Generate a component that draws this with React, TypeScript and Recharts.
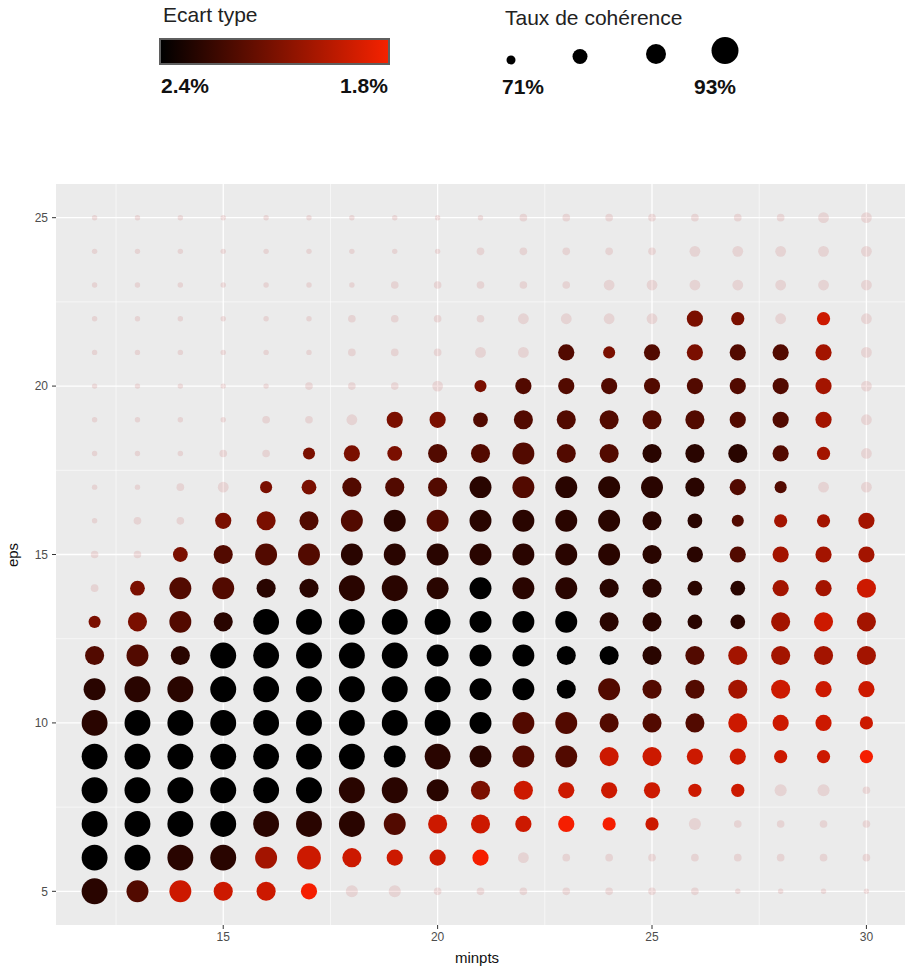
import React from 'react';
import { ScatterChart, Scatter, XAxis, YAxis, ZAxis, CartesianGrid } from 'recharts';

const _ = null;

const minpts = [12, 13, 14, 15, 16, 17, 18, 19, 20, 21, 22, 23, 24, 25, 26, 27, 28, 29, 30];
const eps = [25, 24, 23, 22, 21, 20, 19, 18, 17, 16, 15, 14, 13, 12, 11, 10, 9, 8, 7, 6, 5];

// Taux de cohérence (%), one row per eps value (25 -> 5), one column per minpts
const coherence: number[][] = [
  [69, 69, 69, 69, 69, 69, 69, 69, 69, 69, 70, 70, 70, 70, 70, 70, 70, 72, 72],
  [69, 69, 69, 69, 69, 69, 69, 69, 69, 70, 70, 70, 70, 70, 72, 72, 72, 72, 72],
  [69, 69, 69, 69, 69, 69, 69, 70, 70, 70, 70, 70, 72, 72, 72, 72, 72, 72, 72],
  [69, 69, 69, 69, 69, 69, 70, 70, 70, 70, 72, 72, 72, 72, 77, 74, 72, 74, 72],
  [69, 69, 69, 69, 69, 69, 70, 70, 70, 72, 72, 77, 73, 77, 77, 77, 77, 77, 72],
  [69, 69, 69, 69, 69, 70, 70, 70, 72, 73, 77, 77, 77, 77, 77, 77, 77, 77, 72],
  [69, 69, 69, 69, 70, 70, 72, 77, 77, 75.5, 80.5, 80.5, 80.5, 80.5, 80.5, 77, 77, 77, 72],
  [69, 69, 69, 70, 70, 73, 77, 75.5, 80.5, 80.5, 84.5, 80.5, 80.5, 80.5, 80.5, 80.5, 77, 74, 72],
  [69, 69, 70, 72, 73, 75.5, 80.5, 80.5, 80.5, 84.5, 84.5, 84.5, 84.5, 84.5, 80.5, 77, 73, 72, 72],
  [69, 70, 70, 77, 80.5, 80.5, 84.5, 84.5, 84.5, 84.5, 84.5, 84.5, 84.5, 80.5, 75.5, 73, 74, 74, 77],
  [70, 70, 75.5, 80.5, 84.5, 84.5, 84.5, 84.5, 84.5, 84.5, 84.5, 84.5, 84.5, 80.5, 77, 77, 77, 77, 77],
  [70, 75.5, 84.5, 84.5, 80.5, 80.5, 91, 91, 84.5, 84.5, 84.5, 84.5, 80.5, 80.5, 75.5, 75.5, 77, 77, 80.5],
  [73, 80.5, 84.5, 80.5, 91, 91, 91, 91, 91, 84.5, 84.5, 84.5, 80.5, 80.5, 75.5, 75.5, 80.5, 80.5, 80.5],
  [80.5, 84.5, 80.5, 91, 91, 91, 91, 91, 84.5, 84.5, 84.5, 80.5, 80.5, 80.5, 80.5, 80.5, 80.5, 80.5, 80.5],
  [84.5, 91, 91, 91, 91, 91, 91, 91, 91, 84.5, 84.5, 80.5, 84.5, 80.5, 80.5, 80.5, 80.5, 77, 77],
  [91, 91, 91, 91, 91, 91, 91, 91, 91, 84.5, 84.5, 84.5, 80.5, 80.5, 80.5, 80.5, 77, 77, 74],
  [91, 91, 91, 91, 91, 91, 91, 84.5, 91, 84.5, 84.5, 84.5, 80.5, 80.5, 77, 77, 74, 74, 74],
  [91, 91, 91, 91, 91, 91, 91, 91, 84.5, 80.5, 80.5, 77, 77, 77, 74, 74, 73, 73, 70],
  [91, 91, 91, 91, 91, 91, 91, 84.5, 80.5, 80.5, 77, 77, 74, 74, 73, 70, 70, 70, 70],
  [91, 91, 91, 91, 84.5, 87.5, 80.5, 77, 77, 77, 72, 70, 70, 70, 70, 70, 70, 70, 70],
  [91, 84.5, 84.5, 80.5, 80.5, 77, 73, 73, 70, 70, 70, 70, 70, 70, 70, 69, 69, 69, 69],
];

// Ecart type (%), null = point en retrait (transparent)
const ecartType: (number | null)[][] = [
  [_, _, _, _, _, _, _, _, _, _, _, _, _, _, _, _, _, _, _],
  [_, _, _, _, _, _, _, _, _, _, _, _, _, _, _, _, _, _, _],
  [_, _, _, _, _, _, _, _, _, _, _, _, _, _, _, _, _, _, _],
  [_, _, _, _, _, _, _, _, _, _, _, _, _, _, 2.1, 2.1, _, 1.9, _],
  [_, _, _, _, _, _, _, _, _, _, _, 2.2, 2.1, 2.2, 2.1, 2.2, 2.2, 2.0, _],
  [_, _, _, _, _, _, _, _, _, 2.1, 2.2, 2.2, 2.2, 2.2, 2.2, 2.2, 2.2, 2.0, _],
  [_, _, _, _, _, _, _, 2.1, 2.1, 2.2, 2.2, 2.2, 2.2, 2.2, 2.2, 2.2, 2.2, 2.0, _],
  [_, _, _, _, _, 2.1, 2.1, 2.1, 2.2, 2.2, 2.2, 2.2, 2.2, 2.3, 2.3, 2.3, 2.2, 2.0, _],
  [_, _, _, _, 2.1, 2.1, 2.2, 2.2, 2.2, 2.3, 2.2, 2.3, 2.3, 2.3, 2.3, 2.2, 2.2, _, _],
  [_, _, _, 2.1, 2.1, 2.2, 2.2, 2.3, 2.2, 2.3, 2.3, 2.3, 2.3, 2.3, 2.3, 2.2, 2.0, 2.0, 2.0],
  [_, _, 2.1, 2.2, 2.2, 2.2, 2.3, 2.3, 2.3, 2.3, 2.3, 2.3, 2.3, 2.3, 2.3, 2.2, 2.0, 2.0, 2.0],
  [_, 2.1, 2.2, 2.2, 2.3, 2.3, 2.3, 2.3, 2.3, 2.4, 2.3, 2.3, 2.3, 2.3, 2.3, 2.3, 2.0, 2.0, 1.9],
  [2.1, 2.1, 2.2, 2.3, 2.4, 2.4, 2.4, 2.4, 2.4, 2.4, 2.4, 2.4, 2.3, 2.3, 2.3, 2.3, 2.0, 1.9, 2.0],
  [2.2, 2.2, 2.3, 2.4, 2.4, 2.4, 2.4, 2.4, 2.4, 2.4, 2.4, 2.4, 2.4, 2.3, 2.2, 2.0, 2.0, 2.0, 2.0],
  [2.3, 2.3, 2.3, 2.4, 2.4, 2.4, 2.4, 2.4, 2.4, 2.4, 2.4, 2.4, 2.2, 2.2, 2.2, 2.0, 1.9, 1.9, 1.9],
  [2.3, 2.4, 2.4, 2.4, 2.4, 2.4, 2.4, 2.4, 2.4, 2.4, 2.2, 2.2, 2.2, 2.2, 2.2, 1.9, 1.9, 1.9, 1.9],
  [2.4, 2.4, 2.4, 2.4, 2.4, 2.4, 2.4, 2.4, 2.3, 2.3, 2.2, 2.2, 1.9, 1.9, 1.9, 1.9, 1.9, 1.9, 1.8],
  [2.4, 2.4, 2.4, 2.4, 2.4, 2.4, 2.3, 2.3, 2.3, 2.1, 1.9, 1.9, 1.9, 1.9, 1.9, 1.9, _, _, _],
  [2.4, 2.4, 2.4, 2.4, 2.3, 2.3, 2.3, 2.2, 1.9, 1.9, 1.9, 1.8, 1.8, 1.9, _, _, _, _, _],
  [2.4, 2.4, 2.3, 2.3, 2.0, 1.9, 1.9, 1.9, 1.9, 1.8, _, _, _, _, _, _, _, _, _],
  [2.3, 2.2, 1.9, 1.9, 1.9, 1.8, _, _, _, _, _, _, _, _, _, _, _, _, _],
];

const xTicks = [15, 20, 25, 30];
const yTicks = [5, 10, 15, 20, 25];
const xMinor = [12.5, 17.5, 22.5, 27.5];
const yMinor = [7.5, 12.5, 17.5, 22.5];

const FONT = '"Liberation Sans", Arial, Helvetica, sans-serif';

// black (2.4%) -> red (1.8%)
function ecartColor(e: number) {
  const t = Math.max(0, Math.min(1, (2.4 - e) / 0.6));
  return `rgb(${Math.round(245 * t)},${Math.round(30 * t)},0)`;
}

const points = eps.flatMap((e, r) =>
  minpts.map((m, c) => ({ minpts: m, eps: e, coherence: coherence[r][c], ecart: ecartType[r][c] }))
);
const faded = points.filter((p) => p.ecart === null);
const active = points.filter((p) => p.ecart !== null);

const Dot = (props: any) => {
  const { cx, cy, width, size, payload } = props;
  const r = width ? width / 2 : Math.sqrt(Math.max(size || 0, 0) / Math.PI);
  if (payload.ecart === null) {
    return <circle cx={cx} cy={cy} r={r} fill="#c04848" fillOpacity={0.15} />;
  }
  return <circle cx={cx} cy={cy} r={r} fill={ecartColor(payload.ecart)} />;
};

const legendTitle: React.CSSProperties = {
  position: 'absolute',
  fontFamily: FONT,
  fontSize: 21,
  lineHeight: 1,
  color: '#222',
  whiteSpace: 'nowrap',
};

const boldLabel: React.CSSProperties = {
  position: 'absolute',
  fontFamily: FONT,
  fontWeight: 'bold',
  fontSize: 21,
  lineHeight: 1,
  color: '#111',
  whiteSpace: 'nowrap',
};

export default function App() {
  return (
    <div style={{ position: 'absolute', left: 0, top: 0, width: 906, height: 970, background: '#fff', fontFamily: FONT }}>
      {/* legend: Ecart type */}
      <div style={{ ...legendTitle, left: 163, top: 4 }}>Ecart type</div>
      <div
        style={{
          position: 'absolute',
          left: 159,
          top: 38,
          width: 231,
          height: 27,
          boxSizing: 'border-box',
          border: '2px solid #5f5f5f',
          background: 'linear-gradient(to right, #000000, #f52200)',
        }}
      />
      <div style={{ ...boldLabel, left: 161, top: 75 }}>2.4%</div>
      <div style={{ ...boldLabel, left: 340, top: 75 }}>1.8%</div>

      {/* legend: Taux de cohérence */}
      <div style={{ ...legendTitle, left: 505, top: 7 }}>Taux de cohérence</div>
      <svg style={{ position: 'absolute', left: 0, top: 0 }} width={906} height={80}>
        <circle cx={511} cy={60} r={4.5} fill="#000" />
        <circle cx={580} cy={56.5} r={7.5} fill="#000" />
        <circle cx={656} cy={54} r={10} fill="#000" />
        <circle cx={725} cy={50.5} r={13.5} fill="#000" />
      </svg>
      <div style={{ ...boldLabel, left: 502, top: 76 }}>71%</div>
      <div style={{ ...boldLabel, left: 694, top: 76 }}>93%</div>

      <div style={{ position: 'absolute', left: 0, top: 0 }}>
        <ScatterChart width={906} height={970} margin={{ top: 184, right: 1, bottom: 0, left: 8 }}>
          <CartesianGrid fill="#ebebeb" stroke="#ffffff" strokeWidth={0.6} horizontalValues={yMinor} verticalValues={xMinor} />
          <CartesianGrid stroke="#ffffff" strokeWidth={1.3} horizontalValues={yTicks} verticalValues={xTicks} />
          <XAxis
            type="number"
            dataKey="minpts"
            domain={[11.1, 30.9]}
            ticks={xTicks}
            allowDataOverflow
            axisLine={false}
            tickLine={{ stroke: '#333', strokeWidth: 1 }}
            tickSize={4}
            tickMargin={3}
            height={45}
            tick={{ fill: '#4d4d4d', fontSize: 12, fontFamily: FONT }}
          />
          <YAxis
            type="number"
            dataKey="eps"
            domain={[4, 26]}
            ticks={yTicks}
            allowDataOverflow
            axisLine={false}
            tickLine={{ stroke: '#333', strokeWidth: 1 }}
            tickSize={4}
            tickMargin={4}
            width={48}
            tick={{ fill: '#4d4d4d', fontSize: 12, fontFamily: FONT }}
          />
          <ZAxis type="number" dataKey="coherence" domain={[68, 93]} range={[0, 573]} />
          <Scatter data={faded} shape={Dot} isAnimationActive={false} />
          <Scatter data={active} shape={Dot} isAnimationActive={false} />
        </ScatterChart>
      </div>

      {/* axis titles */}
      <div style={{ position: 'absolute', left: 0, width: 906, paddingLeft: 56, boxSizing: 'border-box', top: 949, textAlign: 'center', fontSize: 15, color: '#111' }}>
        <span style={{ position: 'relative', left: -4 }}>minpts</span>
      </div>
      <div
        style={{
          position: 'absolute',
          left: 12,
          top: 555,
          fontSize: 15,
          color: '#111',
          transform: 'translate(-50%, -50%) rotate(-90deg)',
        }}
      >
        eps
      </div>
    </div>
  );
}
